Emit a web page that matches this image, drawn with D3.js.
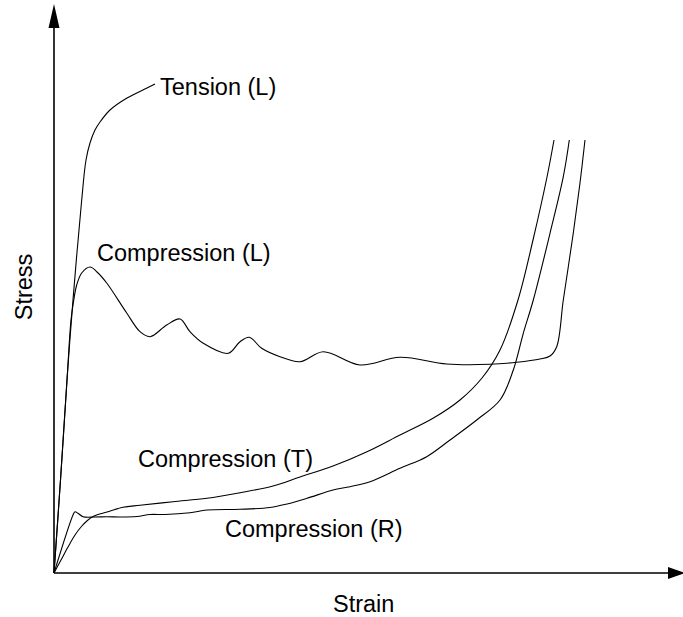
<!DOCTYPE html>
<html>
<head>
<meta charset="utf-8">
<script src="https://cdn.jsdelivr.net/npm/d3@7"></script>
<style>
  html, body { margin: 0; padding: 0; background: #fff; }
  svg { display: block; }
  text { font-family: 'Liberation Sans', Arial, sans-serif; font-size: 23.5px; fill: #000; }
</style>
</head>
<body>
<div id="chart"></div>
<script>
// strain / stress (arbitrary units, no ticks)
const tensionL = [
  [0, 0], [6.5, 93], [13, 193], [19, 273], [27.7, 373], [32, 413], [36, 430],
  [41, 443], [46, 451], [56, 463], [73, 475], [93, 485], [101, 489]
]
const compressionL = [
  [0, 0], [6.5, 93], [13, 193], [17, 253], [19.3, 270], [22.7, 288], [27.7, 300],
  [36, 306], [43, 301], [52.7, 290], [72.7, 260], [86, 241.3], [96, 236.3],
  [112.7, 248], [126, 254], [136, 241.3], [149.3, 229.7], [174.3, 219.7],
  [186, 231.3], [195.3, 235.7], [207.7, 224.7], [226, 216.3], [246, 211.3],
  [269.3, 221.3], [306, 208], [346, 215.7], [392.7, 209], [436, 208.7],
  [462.7, 210.7], [486, 214], [496, 217], [502.7, 226.3], [509.3, 273],
  [519.3, 340], [526, 390], [531, 433]
]
const compressionT = [
  [0, 0], [7, 13], [14, 26], [21, 38], [27, 46], [34, 53], [40, 57], [53, 61],
  [69, 65.7], [86, 67.7], [119, 71.3], [153, 74.7], [186, 80.3], [219, 87],
  [246, 96], [279, 107], [313, 121.3], [346, 138], [379, 154.7], [406, 173],
  [428, 195], [446, 223], [464, 273], [479, 333], [493, 396], [500, 433]
]
const compressionR = [
  [0, 0], [19, 58], [21, 61.3], [24, 59.7], [29, 56.3], [41, 56], [53, 56.3],
  [66, 56], [83, 56.5], [96, 58.5], [111, 58.5], [136, 60.3], [153, 63],
  [186, 63.7], [216, 65.5], [233, 69], [253, 74.7], [279, 83], [296, 86.3],
  [316, 91.3], [346, 104.7], [372.7, 116.3], [396, 133], [422.7, 153], [446, 173],
  [459.3, 203], [469.3, 239.7], [479.3, 273], [496, 339.7], [509.3, 396.3], [515.3, 433]
]
const seriesNames = ['Tension (L)', 'Compression (L)', 'Compression (T)', 'Compression (R)']
const seriesData = [tensionL, compressionL, compressionT, compressionR]

const width = 683
const height = 617
const xStart = 54
const yBase = 573

const svg = d3.select('#chart')
  .append('svg')
  .attr('width', width)
  .attr('height', height)

const xScale = d3.scaleLinear().domain([0, 630]).range([xStart, xStart + 630])
const yScale = d3.scaleLinear().domain([0, 570]).range([yBase, yBase - 570])

// axes: plain lines with filled arrow heads
svg.append('line')
  .attr('x1', xScale(0)).attr('y1', yScale(0))
  .attr('x2', xScale(0)).attr('y2', 26)
  .attr('stroke', '#000').attr('stroke-width', 1.6)
svg.append('path')
  .attr('d', `M${xScale(0)},4 L${xScale(0) - 5.5},28 L${xScale(0) + 5.5},28 Z`)
  .attr('fill', '#000')
svg.append('line')
  .attr('x1', xScale(0)).attr('y1', yScale(0))
  .attr('x2', 670).attr('y2', yScale(0))
  .attr('stroke', '#000').attr('stroke-width', 1.6)
svg.append('path')
  .attr('d', `M685,${yScale(0)} L668,${yScale(0) - 6} L668,${yScale(0) + 6} Z`)
  .attr('fill', '#000')

const line = d3.line()
  .x(d => xScale(d[0]))
  .y(d => yScale(d[1]))
  .curve(d3.curveCatmullRom.alpha(0.5))

svg.append('g')
  .selectAll('path')
  .data(seriesData)
  .enter()
  .append('path')
  .attr('d', line)
  .attr('fill', 'none')
  .attr('stroke', '#000')
  .attr('stroke-width', 1.1)

// curve labels (left x, baseline y in px)
const labelPos = [[160, 95], [97, 261], [138, 467], [225, 537]]
svg.append('g')
  .selectAll('text')
  .data(seriesNames)
  .enter()
  .append('text')
  .text(d => d)
  .attr('x', (d, i) => labelPos[i][0])
  .attr('y', (d, i) => labelPos[i][1])

svg.append('text')
  .text('Strain')
  .attr('x', 333)
  .attr('y', 612)

svg.append('text')
  .text('Stress')
  .attr('text-anchor', 'middle')
  .attr('transform', 'translate(32,287) rotate(-90)')
</script>
</body>
</html>
